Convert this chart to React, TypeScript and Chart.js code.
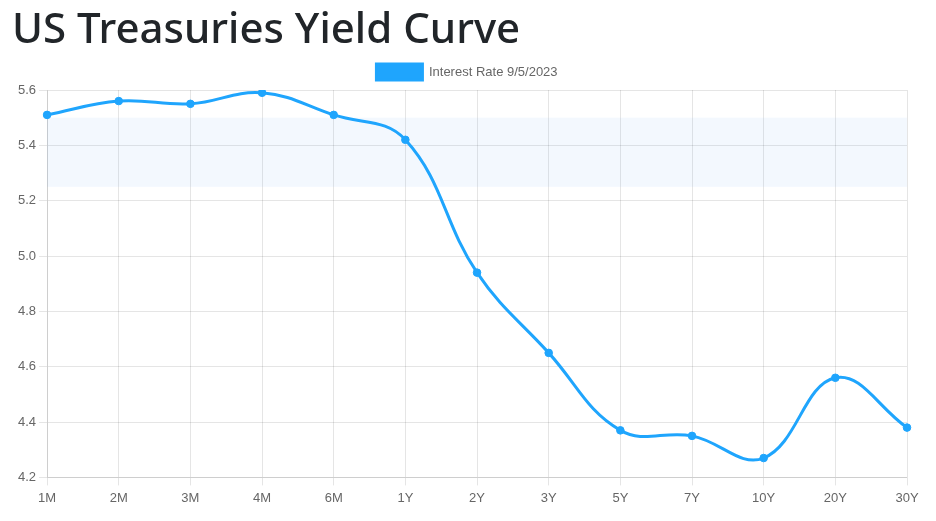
import React, { useEffect, useRef } from "react";
import { Chart, registerables } from "chart.js";

Chart.register(...registerables);

const categories = ["1M", "2M", "3M", "4M", "6M", "1Y", "2Y", "3Y", "5Y", "7Y", "10Y", "20Y", "30Y"];
const rates = [5.51, 5.56, 5.55, 5.59, 5.51, 5.42, 4.94, 4.65, 4.37, 4.35, 4.27, 4.56, 4.38];
const seriesLabel = "Interest Rate 9/5/2023";
const bandLow = 5.25;
const bandHigh = 5.5;
const yMin = 4.2;
const yMax = 5.6;

const bandPlugin = {
  id: "band",
  afterLayout(chart: any) {
    if (chart.legend) {
      chart.legend.left += 12;
    }
  },
  beforeDatasetsDraw(chart: any) {
    const { ctx, chartArea, scales } = chart;
    const y = scales.y;
    const top = y.getPixelForValue(bandHigh);
    const bottom = y.getPixelForValue(bandLow);
    ctx.save();
    ctx.fillStyle = "rgba(40,130,245,0.055)";
    ctx.fillRect(chartArea.left, top, chartArea.right - chartArea.left, bottom - top);
    ctx.restore();
  },
};

export default function App() {
  const ref = useRef<HTMLCanvasElement>(null);
  useEffect(() => {
    if (!ref.current) return;
    Chart.defaults.font.family = "'Liberation Sans', Arial, sans-serif";
    Chart.defaults.color = "#666";
    const chart = new Chart(ref.current, {
      type: "line",
      data: {
        labels: categories,
        datasets: [
          {
            label: seriesLabel,
            data: rates,
            borderColor: "#1fa5fd",
            backgroundColor: "#1fa5fd",
            borderWidth: 3,
            pointRadius: 3.8,
            pointBorderWidth: 1,
            pointHoverRadius: 4,
            tension: 0.4,
            fill: false,
          },
        ],
      },
      options: {
        animation: false,
        responsive: false,
        maintainAspectRatio: false,
        layout: { padding: { top: 54, left: 15, right: 29, bottom: 10 } },
        plugins: {
          legend: {
            labels: { boxWidth: 46, boxHeight: 16, font: { size: 13 }, color: "#666" },
          },
          tooltip: { enabled: false },
        },
        scales: {
          x: {
            grid: { color: "rgba(0,0,0,0.1)" },
            ticks: { font: { size: 13 }, color: "#666", padding: 5 },
          },
          y: {
            min: yMin,
            max: yMax,
            grid: { color: "rgba(0,0,0,0.1)" },
            ticks: { stepSize: 0.2, font: { size: 13 }, color: "#666", callback: (v: any) => Number(v).toFixed(1) },
          },
        },
      },
      plugins: [bandPlugin],
    });
    return () => chart.destroy();
  }, []);
  return (
    <div style={{ position: "fixed", left: 0, top: 0, width: 936, height: 521, background: "#fff" }}>
      <canvas ref={ref} width={936} height={521} style={{ position: "absolute", left: 0, top: 0 }} />
      <div
        style={{
          position: "absolute",
          left: 12,
          top: -1,
          fontFamily: "'Noto Sans', 'Open Sans', sans-serif",
          fontSize: 42,
          fontWeight: 500,
          color: "#212529",
          lineHeight: "56px",
          whiteSpace: "nowrap",
        }}
      >
        US Treasuries Yield Curve
      </div>
    </div>
  );
}
